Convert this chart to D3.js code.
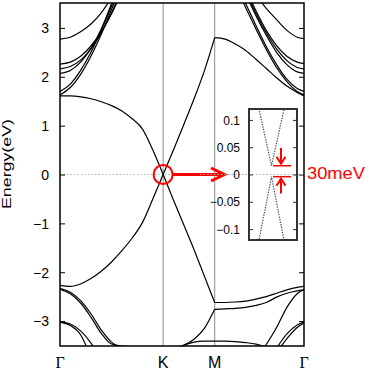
<!DOCTYPE html>
<html>
<head>
<meta charset="utf-8">
<script src="https://cdn.jsdelivr.net/npm/d3@7"></script>
<style>body{margin:0;background:#fff;}</style>
</head>
<body>
<div id="canvas"></div>
<script>
// k-path: Γ=0, K=1, M=1.5, Γ=2.366
const kGrid = [0,0.1,0.2,0.3,0.4,0.5,0.6,0.7,0.8,0.9,1.0, 1.1,1.2,1.3,1.4,1.5, 1.6,1.7,1.8,1.9,2.0,2.1,2.2,2.3,2.366];
const kTicks = [0,1,1.5,2.366];
const kLabels = ["Γ","K","M","Γ"];
const eTicks = [-3,-2,-1,0,1,2,3];
const N = null;

// bands (eV), one value per kGrid point
const piUp   = [1.61,1.61,1.59,1.55,1.49,1.41,1.30,1.14,0.93,0.50,0, 0.50,1.02,1.55,2.12,2.80, 2.77,2.67,2.54,2.36,2.17,1.98,1.81,1.68,1.61];
const piDown = [-2.27,-2.29,-2.24,-2.13,-1.98,-1.79,-1.56,-1.30,-0.98,-0.50,0, -0.52,-1.03,-1.54,-2.08,-2.62, -2.62,-2.61,-2.59,-2.55,-2.50,-2.43,-2.36,-2.31,-2.29];
const sigA   = [-2.33,-2.41,-2.58,-2.85,-3.18,-3.43,-3.55,-3.62,N,N,N, N,N,N,N,N, N,N,N,N,N,N,N,N,N];
const sigB   = [-2.35,-2.44,-2.63,-2.92,-3.25,-3.47,-3.51,-3.52,-3.53,-3.53,-3.53, -3.53,-3.49,-3.37,-3.15,-2.76, -2.75,-2.74,-2.72,-2.68,-2.62,-2.51,-2.43,-2.38,-2.36];
const sigC   = [N,N,N,N,N,N,N,N,N,N,N, N,N,N,N,N, N,N,N,-3.80,-3.48,-3.13,-2.72,-2.44,-2.35];
const sigD   = [-3.02,-3.09,-3.28,-3.75,N,N,N,N,N,N,N, N,N,N,N,N, N,N,N,N,-3.85,-3.55,-3.26,-3.08,-3.02];
const sigE   = [-3.02,-3.06,-3.20,-3.45,-3.80,N,N,N,N,N,N, N,N,N,N,N, N,N,N,N,-3.95,-3.65,-3.36,-3.13,-3.04];
const sigF   = [N,N,N,N,N,N,N,N,N,N,N, -3.62,-3.50,-3.43,-3.41,-3.41, -3.41,-3.42,-3.44,-3.47,-3.53,-3.62,N,N,N];
const up1    = [2.77,2.81,2.92,3.08,3.31,3.62,N,N,N,N,N, N,N,N,N,N, N,N,N,3.68,3.40,3.17,2.95,2.81,2.78];
const up2    = [2.26,2.30,2.42,2.63,2.92,3.29,3.74,N,N,N,N, N,N,N,N,N, N,N,3.80,3.35,2.95,2.64,2.42,2.30,2.27];
const up3    = [2.16,2.21,2.34,2.57,2.90,3.31,3.80,N,N,N,N, N,N,N,N,N, N,N,3.75,3.30,2.90,2.57,2.33,2.19,2.16];
const up4    = [2.07,2.13,2.30,2.58,2.98,3.50,4.10,N,N,N,N, N,N,N,N,N, N,N,3.70,3.25,2.85,2.50,2.25,2.10,2.07];
const up5    = [1.70,1.85,2.13,2.50,2.95,3.45,4.00,N,N,N,N, N,N,N,N,N, N,3.95,3.50,3.05,2.62,2.25,1.95,1.76,1.70];
const up6    = [1.63,1.78,2.05,2.42,2.87,3.38,3.92,N,N,N,N, N,N,N,N,N, N,3.85,3.42,2.98,2.56,2.19,1.90,1.70,1.63];
const bands = [piUp,piDown,sigA,sigB,sigC,sigD,sigE,sigF,up1,up2,up3,up4,up5,up6];
const segments = [[0,10],[10,15],[15,24]];

// inset (zoom near K)
const insetK = [-1.1,0,1.1];
const insetUp = [0.130,0.016,0.130];
const insetDown = [-0.132,-0.004,-0.132];
const insetTicks = [-0.1,-0.05,0,0.05,0.1];
const insetTickLabels = ["−0.1","−0.05","0","0.05","0.1"];
const gapEdges = [0.016,-0.004];
const gapLabel = "30meV";

const width = 368, height = 371;
const svg = d3.select("#canvas").append("svg").attr("width",width).attr("height",height)
  .style("font-family","'Liberation Sans', Arial, sans-serif");

const x = d3.scaleLinear().domain([0,2.366]).range([60,304]);
const y = d3.scaleLinear().domain([-3.51,3.51]).range([346,3]);

svg.append("clipPath").attr("id","clip").append("rect")
  .attr("x",60).attr("y",3).attr("width",244).attr("height",343);

// zero line
svg.append("line").attr("x1",x(0)).attr("x2",x(2.366)).attr("y1",y(0)).attr("y2",y(0))
  .attr("stroke","#b0b0b0").attr("stroke-width",1).attr("stroke-dasharray","1.5,2");

// K, M lines
svg.selectAll(".kline").data(kTicks.slice(1,3)).enter().append("line")
  .attr("x1",d=>x(d)).attr("x2",d=>x(d)).attr("y1",3).attr("y2",346)
  .attr("stroke","#8c8c8c").attr("stroke-width",1);

const line = d3.line().defined(d=>d[1]!==null).x(d=>x(d[0])).y(d=>y(d[1])).curve(d3.curveMonotoneX);
const gb = svg.append("g").attr("clip-path","url(#clip)");
bands.forEach(b=>{
  segments.forEach(([i0,i1])=>{
    const pts = [];
    for (let i=i0;i<=i1;i++) pts.push([kGrid[i],b[i]]);
    gb.append("path").attr("d",line(pts)).attr("fill","none")
      .attr("stroke","#000").attr("stroke-width",1.2);
  });
});

// axes
const ax = d3.axisLeft(y).tickValues(eTicks).tickSize(-5).tickPadding(11)
  .tickFormat(d=>d<0 ? "−"+Math.abs(d) : d);
const gl = svg.append("g").attr("transform","translate(60,0)").call(ax);
gl.select(".domain").remove();
gl.selectAll("text").attr("font-size",14).attr("fill","#000").attr("dy","0.35em").attr("font-family","'Liberation Sans', Arial, sans-serif");
gl.selectAll("line").attr("stroke","#000");
const gr = svg.append("g").attr("transform","translate(304,0)")
  .call(d3.axisRight(y).tickValues(eTicks).tickSize(-5).tickFormat(""));
gr.select(".domain").remove();
gr.selectAll("line").attr("stroke","#000");

svg.append("rect").attr("x",60).attr("y",3).attr("width",244).attr("height",343)
  .attr("fill","none").attr("stroke","#000").attr("stroke-width",1.5);

svg.selectAll(".klab").data(kTicks).enter().append("text")
  .attr("x",d=>x(d)).attr("y",367.5).attr("text-anchor","middle")
  .attr("font-size",16)
  .attr("font-family",(d,i)=>kLabels[i]==="Γ" ? "'Liberation Serif', serif" : null)
  .text((d,i)=>kLabels[i]);

svg.append("text").attr("transform","translate(11,164) rotate(-90)")
  .attr("text-anchor","middle").attr("font-size",12.5)
  .attr("textLength",90).attr("lengthAdjust","spacingAndGlyphs").text("Energy(eV)");

// red marker at K and arrow
svg.append("circle").attr("cx",x(1)).attr("cy",y(0)).attr("r",9.5)
  .attr("fill","none").attr("stroke","#f00").attr("stroke-width",2);
svg.append("line").attr("x1",x(1)+9.5).attr("x2",223).attr("y1",y(0)).attr("y2",y(0))
  .attr("stroke","#f00").attr("stroke-width",3);
svg.append("path").attr("d",`M211,${y(0)-6.5}L224.5,${y(0)}L211,${y(0)+6.5}`)
  .attr("fill","none").attr("stroke","#f00").attr("stroke-width",3);

// inset
const xi = d3.scaleLinear().domain([-1.8,2.04]).range([249,297]);
const yi = d3.scaleLinear().domain([-0.12,0.12]).range([240,109]);
const inset = svg.append("g");
inset.append("rect").attr("x",249).attr("y",109).attr("width",48).attr("height",131).attr("fill","#fff");
inset.append("clipPath").attr("id","clipi").append("rect").attr("x",249).attr("y",109).attr("width",48).attr("height",131);
inset.append("line").attr("x1",200).attr("x2",304).attr("y1",yi(0)).attr("y2",yi(0))
  .attr("stroke","#b0b0b0").attr("stroke-width",1).attr("stroke-dasharray","1.5,2");
const li = d3.line().x(d=>xi(d[0])).y(d=>yi(d[1]));
[insetUp,insetDown].forEach(b=>{
  inset.append("path").attr("clip-path","url(#clipi)")
    .attr("d",li(insetK.map((k,i)=>[k,b[i]]))).attr("fill","none")
    .attr("stroke","#444").attr("stroke-width",1.2).attr("stroke-dasharray","1.3,1.3");
});
const ail = inset.append("g").attr("transform","translate(249,0)")
  .call(d3.axisLeft(yi).tickValues(insetTicks).tickSize(-4).tickPadding(9).tickFormat((d,i)=>insetTickLabels[i]));
ail.select(".domain").remove();
ail.selectAll("text").attr("font-size",12).attr("fill","#000").attr("dy","0.35em").attr("font-family","'Liberation Sans', Arial, sans-serif");
ail.selectAll("line").attr("stroke","#333");
const air = inset.append("g").attr("transform","translate(297,0)")
  .call(d3.axisRight(yi).tickValues(insetTicks).tickSize(-4).tickFormat(""));
air.select(".domain").remove();
air.selectAll("line").attr("stroke","#333");
inset.append("rect").attr("x",249).attr("y",109).attr("width",48).attr("height",131)
  .attr("fill","none").attr("stroke","#333").attr("stroke-width",2);

// gap markers
gapEdges.forEach(e=>{
  inset.append("line").attr("x1",xi(0.12)).attr("x2",xi(1.56)).attr("y1",yi(e)).attr("y2",yi(e))
    .attr("stroke","#f00").attr("stroke-width",1.5);
});
const ax0 = xi(0.76);
inset.append("line").attr("x1",ax0).attr("x2",ax0).attr("y1",148).attr("y2",yi(gapEdges[0])-3)
  .attr("stroke","#f00").attr("stroke-width",2);
inset.append("path").attr("d",`M${ax0-4.5},${yi(gapEdges[0])-9}L${ax0},${yi(gapEdges[0])-2}L${ax0+4.5},${yi(gapEdges[0])-9}`)
  .attr("fill","none").attr("stroke","#f00").attr("stroke-width",2);
inset.append("line").attr("x1",ax0).attr("x2",ax0).attr("y1",193.5).attr("y2",yi(gapEdges[1])+3)
  .attr("stroke","#f00").attr("stroke-width",2);
inset.append("path").attr("d",`M${ax0-4.5},${yi(gapEdges[1])+9}L${ax0},${yi(gapEdges[1])+2}L${ax0+4.5},${yi(gapEdges[1])+9}`)
  .attr("fill","none").attr("stroke","#f00").attr("stroke-width",2);

svg.append("text").attr("x",307).attr("y",178.5).attr("font-size",16.5)
  .attr("textLength",58).attr("lengthAdjust","spacingAndGlyphs")
  .attr("fill","#f00").text(gapLabel);
</script>
</body>
</html>
